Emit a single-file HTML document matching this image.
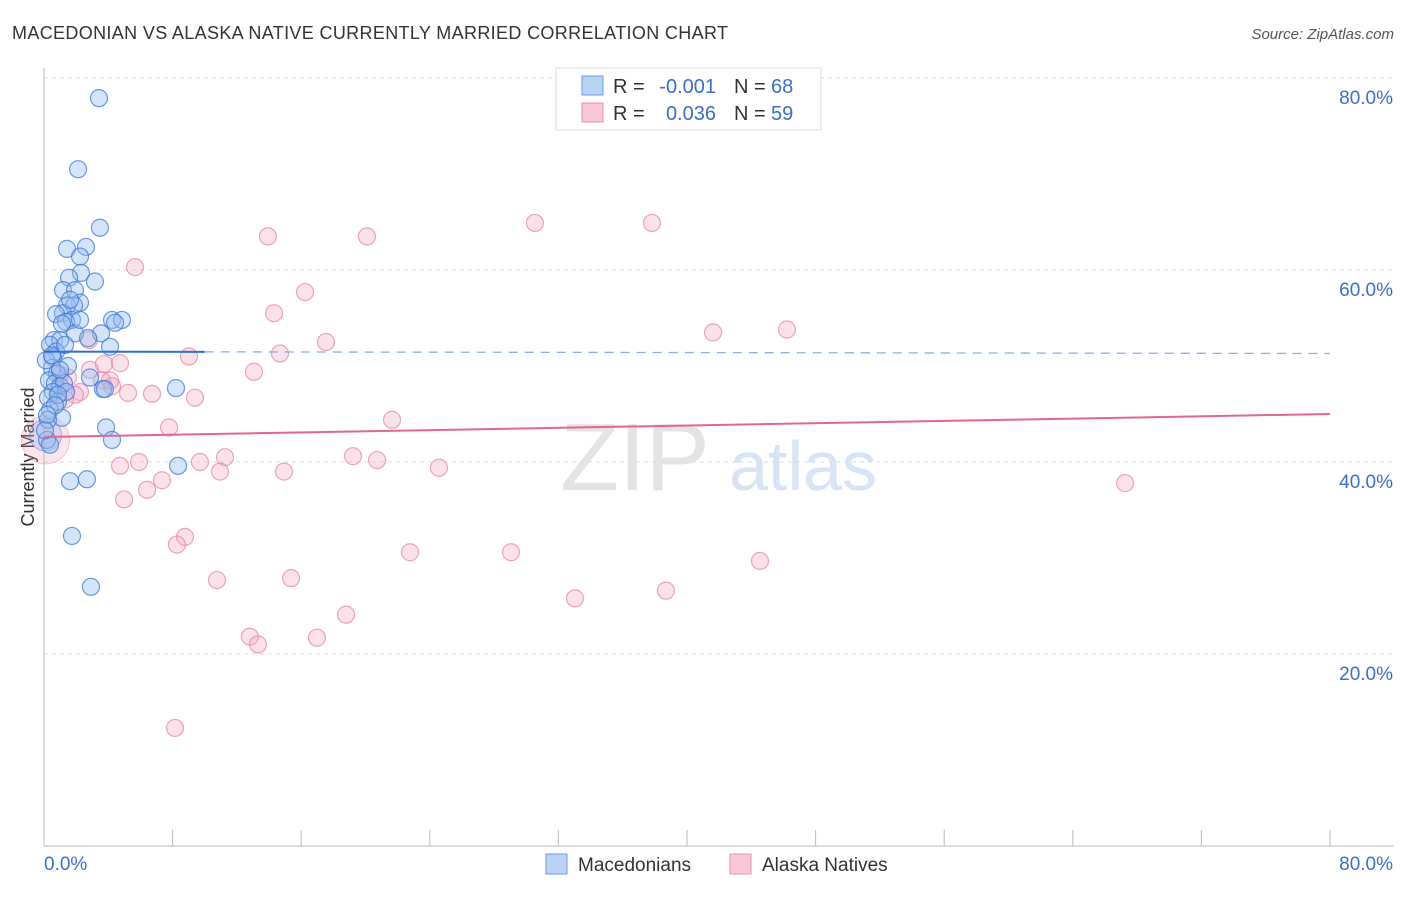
<!DOCTYPE html>
<html><head><meta charset="utf-8"><style>
body{margin:0;background:#fff;font-family:"Liberation Sans",sans-serif}
svg text{font-family:"Liberation Sans",sans-serif}
</style></head><body>
<svg id="chart" width="1406" height="892">
<text x="12" y="39" font-size="18" fill="#333" textLength="716">MACEDONIAN VS ALASKA NATIVE CURRENTLY MARRIED CORRELATION CHART</text>
<text x="1394" y="39" font-size="15" fill="#555" font-style="italic" text-anchor="end">Source: ZipAtlas.com</text>
<text x="0" y="0" transform="translate(34,457) rotate(-90)" font-size="18" fill="#333" text-anchor="middle">Currently Married</text>
<g>
<text x="635" y="490" font-size="96" fill="#e4e4e4" font-family="Liberation Serif" text-anchor="middle">ZIP</text>
<text x="803" y="490" font-size="70" fill="#d6e4f6" text-anchor="middle">atlas</text>
</g>
<g id="grid"></g><g id="axes"></g><g id="pts"></g><g id="trends"></g>
<g>
<rect x="556" y="68" width="265" height="62" fill="#fff" stroke="#ddd"/>
<rect x="582" y="76" width="21" height="19" fill="#b9d3f5" stroke="#6a9be0"/>
<text x="613" y="93" font-size="20" fill="#333">R =</text>
<text x="716" y="93" font-size="20" fill="#3a6fd0" text-anchor="end">-0.001</text>
<text x="734" y="93" font-size="20" fill="#333">N =</text>
<text x="771" y="93" font-size="20" fill="#3a6fd0">68</text>
<rect x="582" y="103" width="21" height="19" fill="#f8c8d6" stroke="#ea90ab"/>
<text x="613" y="120" font-size="20" fill="#333">R =</text>
<text x="716" y="120" font-size="20" fill="#3a6fd0" text-anchor="end">0.036</text>
<text x="734" y="120" font-size="20" fill="#333">N =</text>
<text x="771" y="120" font-size="20" fill="#3a6fd0">59</text>
</g>
<g>
<rect x="546" y="854" width="21" height="20" fill="#b9d3f5" stroke="#6a9be0"/>
<text x="578" y="871" font-size="19" fill="#333">Macedonians</text>
<rect x="730" y="854" width="21" height="20" fill="#f8c8d6" stroke="#ea90ab"/>
<text x="762" y="871" font-size="19" fill="#333">Alaska Natives</text>
</g>
</svg>
<script>
const yTicks=[20,40,60,80];
const yTickLabels=["20.0%","40.0%","60.0%","80.0%"];
const xTickLabels=["0.0%","80.0%"];
const blueX=[3.42,2.12,3.48,2.61,1.43,2.24,2.30,1.56,3.17,1.18,1.93,2.24,1.43,1.87,1.18,0.75,1.74,1.37,1.12,4.23,4.85,4.42,3.55,1.93,0.62,1.0,0.37,4.11,0.75,0.56,1.49,0.5,0.81,0.31,0.68,1.0,2.86,1.24,8.21,3.67,3.79,0.56,1.37,0.25,0.87,0.37,1.12,0.25,3.86,4.23,8.34,1.62,2.67,1.74,2.92,0.19,0.37,0.87,0.12,0.5,1.31,2.74,1.0,0.68,0.19,0.06,2.24,1.62];
const blueY=[77.9,70.5,64.4,62.4,62.2,61.4,59.7,59.2,58.8,57.9,57.9,56.6,56.3,56.3,55.5,55.4,54.8,54.6,54.4,54.8,54.8,54.5,53.4,53.4,52.7,52.7,52.2,52.0,51.5,50.9,50.0,49.8,49.2,48.5,48.2,47.9,48.8,48.2,47.7,47.6,47.6,47.3,47.3,46.7,46.3,45.4,44.6,44.4,43.6,42.3,39.6,38.0,38.2,32.3,27.0,42.3,41.8,47.0,50.6,51.1,52.2,52.9,49.6,45.9,44.9,43.3,54.8,56.9];
const pinkX=[5.66,13.93,20.09,30.54,37.82,16.24,14.31,17.54,41.62,46.22,14.68,9.02,13.06,2.80,4.73,3.61,1.49,4.23,5.23,6.72,9.39,2.24,1.0,21.65,7.78,19.22,20.72,11.26,9.70,5.91,4.73,10.95,14.93,24.57,7.34,6.41,4.98,8.77,8.27,22.77,29.05,44.54,10.76,15.37,33.03,38.69,18.79,12.81,13.31,16.98,8.15,67.25,1.93,2.86,4.11,0.87,1.31,3.73];
const pinkY=[60.3,63.5,63.5,64.9,64.9,57.7,55.5,52.5,53.5,53.8,51.3,51.0,49.4,52.7,50.3,48.5,48.8,47.9,47.2,47.1,46.7,47.3,49.1,44.4,43.6,40.6,40.2,40.5,40.0,40.0,39.6,39.0,39.0,39.4,38.1,37.1,36.1,32.2,31.4,30.6,30.6,29.7,27.7,27.9,25.8,26.6,24.1,21.8,21.0,21.7,12.3,37.8,47.0,49.6,48.5,47.5,46.5,50.2];
const blueTrend=[51.5,51.3];
const pinkTrend=[42.6,45.0];
const NS="http://www.w3.org/2000/svg";
const X=v=>44+v/80*1286, Y=v=>846-v/80*768;
function mk(tag,attrs,parent){const e=document.createElementNS(NS,tag);for(const k in attrs)e.setAttribute(k,attrs[k]);parent.appendChild(e);return e;}
const grid=document.getElementById('grid'),axes=document.getElementById('axes'),pts=document.getElementById('pts'),tr=document.getElementById('trends');
yTicks.forEach((t,i)=>{
 const l=mk('line',{x1:44,x2:1394,y1:Y(t),y2:Y(t),stroke:'#ddd','stroke-dasharray':'4,4'},grid);
 
 
 const tx=mk('text',{x:1393,y:Y(t)+26,'font-size':19,fill:'#3a6fd0','text-anchor':'end'},grid);
 tx.textContent=yTickLabels[i];
 
 
});
const ax=mk('line',{x1:44,x2:44,y1:68,y2:846,stroke:'#bbb'},axes);


const bx=mk('line',{x1:44,x2:1394,y1:846,y2:846,stroke:'#bbb'},axes);


for(let k=1;k<=10;k++){
 const t=mk('line',{x1:X(k*8),x2:X(k*8),y1:830,y2:846,stroke:'#bbb'},axes);
 
 
}
const xl0=mk('text',{x:44,y:870,'font-size':19,fill:'#3a6fd0'},axes);xl0.textContent=xTickLabels[0];


const xl1=mk('text',{x:1393,y:870,'font-size':19,fill:'#3a6fd0','text-anchor':'end'},axes);xl1.textContent=xTickLabels[1];


const big1=mk('circle',{cx:X(0.1),cy:Y(42.3),r:24,fill:'rgba(240,150,180,0.25)',stroke:'rgba(230,130,160,0.4)'},pts);


const big2=mk('circle',{cx:X(0.1),cy:Y(42.8),r:16,fill:'rgba(120,160,225,0.25)',stroke:'rgba(70,120,210,0.45)'},pts);


pinkX.forEach((v,i)=>{
 const c=mk('circle',{cx:X(v),cy:Y(pinkY[i]),r:8.5,fill:'rgba(244,170,195,0.35)',stroke:'rgba(230,130,160,0.7)','stroke-width':1.2},pts);
 
 
});
blueX.forEach((v,i)=>{
 const c=mk('circle',{cx:X(v),cy:Y(blueY[i]),r:8.5,fill:'rgba(150,190,240,0.4)',stroke:'rgba(60,120,215,0.75)','stroke-width':1.2},pts);
 
 
});
const bt=mk('line',{x1:X(0),x2:X(10),y1:Y(blueTrend[0]),y2:Y(blueTrend[0]+(blueTrend[1]-blueTrend[0])/8),stroke:'#2f6fd0','stroke-width':2},tr);


const bd=mk('line',{x1:X(10),x2:X(80),y1:Y(blueTrend[0]+(blueTrend[1]-blueTrend[0])/8),y2:Y(blueTrend[1]),stroke:'#8ab0e6','stroke-width':1.3,'stroke-dasharray':'9,7'},tr);


const pt=mk('line',{x1:X(0),x2:X(80),y1:Y(pinkTrend[0]),y2:Y(pinkTrend[1]),stroke:'#e06890','stroke-width':2},tr);


</script>
</body></html>
